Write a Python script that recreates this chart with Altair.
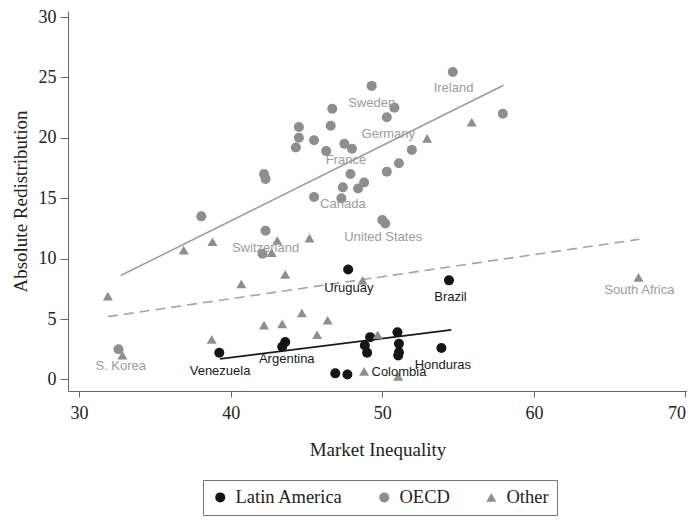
import altair as alt
import pandas as pd

regions = ["Latin America", "OECD", "Other"]

latin_x = [47.75, 54.4, 39.25, 43.6, 43.4, 49.2, 48.85, 49.0, 51.0, 51.1, 51.1, 51.05, 53.9, 46.9, 47.7]
latin_y = [9.1, 8.2, 2.2, 3.1, 2.7, 3.5, 2.8, 2.2, 3.9, 2.95, 2.25, 1.98, 2.6, 0.5, 0.4]

oecd_x = [49.3, 54.65, 46.7, 50.8, 50.3, 57.95, 44.5, 46.6, 44.5, 45.5, 44.3, 47.5, 48.0, 46.3,
          51.95, 51.1, 50.3, 42.2, 42.3, 47.9, 47.4, 48.8, 48.4, 45.5, 47.3, 38.06, 42.3, 42.1,
          32.6, 50.0, 50.2]
oecd_y = [24.3, 25.45, 22.4, 22.5, 21.7, 22.0, 20.9, 21.0, 20.0, 19.8, 19.2, 19.5, 19.1, 18.9,
          19.0, 17.9, 17.2, 17.0, 16.6, 17.0, 15.9, 16.3, 15.8, 15.1, 15.0, 13.5, 12.3, 10.4,
          2.5, 13.2, 12.9]

other_x = [31.9, 32.86, 36.9, 38.8, 43.07, 42.7, 45.2, 40.7, 43.6, 44.7, 42.2, 43.4, 46.4, 45.7,
           38.75, 48.8, 49.7, 48.7, 51.05, 52.96, 55.9, 66.9]
other_y = [6.9, 2.0, 10.7, 11.4, 11.5, 10.5, 11.7, 7.9, 8.7, 5.5, 4.5, 4.6, 4.9, 3.7,
           3.3, 0.66, 3.7, 8.2, 0.25, 19.95, 21.3, 8.45]

fit_region = ["OECD", "OECD", "Other", "Other", "Latin America", "Latin America"]
fit_x = [32.75, 58.0, 31.9, 66.96, 39.3, 54.55]
fit_y = [8.6, 24.35, 5.2, 11.6, 1.7, 4.1]

label_text = ["Ireland", "Sweden", "Germany", "France", "Canada", "United States", "Switzerland",
              "Uruguay", "Brazil", "South Africa", "S. Korea", "Venezuela", "Argentina",
              "Colombia", "Honduras"]
label_x = [54.7, 49.3, 50.4, 47.6, 47.4, 50.06, 42.3, 47.8, 54.5, 66.96, 32.75, 39.3, 43.7, 51.1, 54.0]
label_y = [24.1, 22.9, 20.3, 18.15, 14.5, 11.76, 10.9, 7.6, 6.8, 7.4, 1.07, 0.7, 1.68, 0.58, 1.2]
label_region = ["OECD", "OECD", "OECD", "OECD", "OECD", "OECD", "OECD",
                "Latin America", "Latin America", "Other", "OECD", "Latin America",
                "Latin America", "Latin America", "Latin America"]

points = pd.DataFrame({
    "x": latin_x + oecd_x + other_x,
    "y": latin_y + oecd_y + other_y,
    "region": ["Latin America"] * len(latin_x) + ["OECD"] * len(oecd_x) + ["Other"] * len(other_x),
})
fits = pd.DataFrame({"x": fit_x, "y": fit_y, "region": fit_region})
labels = pd.DataFrame({"x": label_x, "y": label_y, "text": label_text, "region": label_region})

xscale = alt.Scale(domain=[29.27, 70.1], nice=False, zero=False)
yscale = alt.Scale(domain=[-0.96, 30.5], nice=False, zero=False)

xenc = alt.X("x:Q", scale=xscale,
             axis=alt.Axis(values=[30, 40, 50, 60, 70], title="Market Inequality",
                           tickSize=6, labelPadding=7, titlePadding=18,
                           labelAlign={"condition": {"test": "datum.value === 70", "value": "right"},
                                       "value": "center"}))
yenc = alt.Y("y:Q", scale=yscale,
             axis=alt.Axis(values=[0, 5, 10, 15, 20, 25, 30], title="Absolute Redistribution",
                           tickSize=8, labelPadding=4, titlePadding=8))

pts = alt.Chart(points).mark_point(filled=True, opacity=1, strokeWidth=0).encode(
    x=xenc,
    y=yenc,
    color=alt.Color("region:N", scale=alt.Scale(domain=regions, range=["#151515", "#8e8e8e", "#8e8e8e"]),
                    legend=alt.Legend(title=None)),
    shape=alt.Shape("region:N", scale=alt.Scale(domain=regions, range=["circle", "circle", "triangle-up"]),
                    legend=alt.Legend(title=None)),
    size=alt.Size("region:N", scale=alt.Scale(domain=regions, range=[100, 100, 30]),
                  legend=alt.Legend(title=None)),
)

def fit_layer(region, color, dash=None):
    kw = dict(color=color, strokeWidth=1.6)
    if dash:
        kw["strokeDash"] = dash
    return alt.Chart(fits).transform_filter(f"datum.region === '{region}'").mark_line(**kw).encode(
        x=alt.X("x:Q", scale=xscale), y=alt.Y("y:Q", scale=yscale))

line_oecd = fit_layer("OECD", "#9c9c9c")
line_other = fit_layer("Other", "#a3a3a3", [10, 6])
line_latin = fit_layer("Latin America", "#1a1a1a")

txt = alt.Chart(labels).mark_text(font="Liberation Sans", fontSize=13, align="center", baseline="middle").encode(
    x=alt.X("x:Q", scale=xscale),
    y=alt.Y("y:Q", scale=yscale),
    text="text:N",
    color=alt.condition("datum.region === 'Latin America'", alt.value("#1a1a1a"), alt.value("#9c9c9c")),
)

chart = alt.layer(line_oecd, line_other, line_latin, pts, txt).properties(
    width=619,
    height=380,
    autosize=alt.AutoSizeParams(type="none"),
    padding={"left": 60, "top": 3, "right": 0, "bottom": 125},
).configure_view(stroke=None).configure_axis(
    grid=False,
    domainColor="#666666",
    tickColor="#666666",
    labelFont="Liberation Serif",
    labelFontSize=18,
    labelColor="#222222",
    titleFont="Liberation Serif",
    titleFontSize=19,
    titleFontWeight="normal",
    titleColor="#222222",
).configure_legend(
    orient="none",
    legendX=135,
    legendY=469,
    direction="horizontal",
    strokeColor="#777777",
    padding=8,
    labelFont="Liberation Serif",
    labelFontSize=18.5,
    labelColor="#222222",
    columnPadding=32,
    labelOffset=6,
    symbolStrokeWidth=0,
    fillColor="white",
)

chart.save("out.html", embed_options={"renderer": "svg", "actions": False})
